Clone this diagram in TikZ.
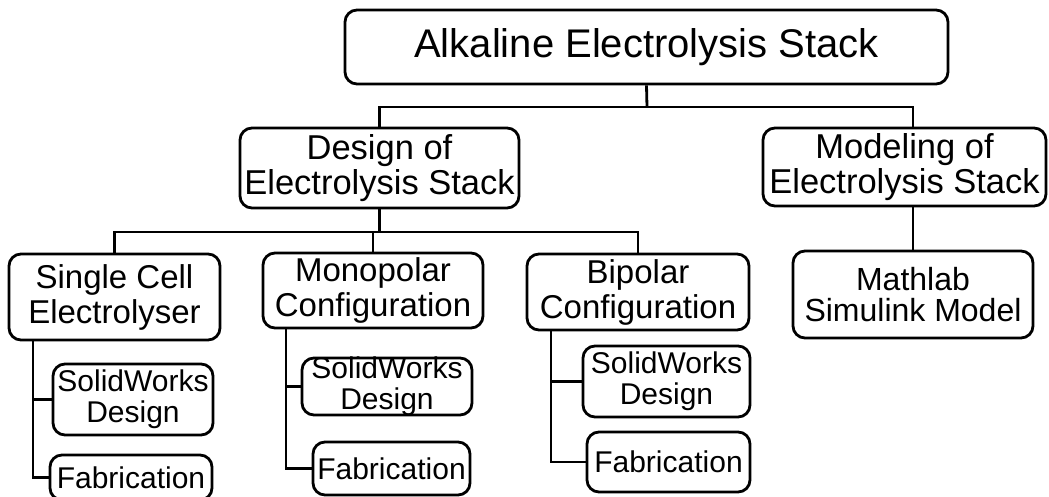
\documentclass[tikz,border=0pt]{standalone}
\usepackage{fontspec}
\setmainfont{Liberation Sans}
\begin{document}
\begin{tikzpicture}[x=1pt,y=-1pt,
  box/.style={draw=black, line width=2.8pt, rounded corners=12pt, fill=white,
    align=center, inner sep=0pt, text=black},
  conn/.style={draw=black, line width=2.8pt},
  ftop/.style={font=\fontsize{40}{40}\selectfont},
  fmid/.style={font=\fontsize{34.5}{35.5}\selectfont},
  flow/.style={font=\fontsize{33}{35}\selectfont},
  fsub/.style={font=\fontsize{30}{31}\selectfont},
  fmat/.style={font=\fontsize{32}{31}\selectfont}]
\fill[white] (0,0) rectangle (1049,497);
\useasboundingbox (0,0) rectangle (1049,497);

% boxes
\node[box, ftop, minimum width=603pt, minimum height=74pt] (top) at (646.5,47) {Alkaline Electrolysis Stack};
\node[box, fmid, minimum width=279pt, minimum height=80pt] (design) at (379.5,168) {Design of\\Electrolysis Stack};
\node[box, fmid, minimum width=283pt, minimum height=78pt] (modeling) at (904.5,167) {Modeling of\\Electrolysis Stack};
\node[box, flow, minimum width=211pt, minimum height=86pt] (single) at (114.5,297) {Single Cell\\Electrolyser};
\node[box, flow, minimum width=220pt, minimum height=75pt] (mono) at (373,290.5) {Monopolar\\Configuration};
\node[box, flow, minimum width=222pt, minimum height=76pt] (bip) at (638,292) {Bipolar\\Configuration};
\node[box, fmat, minimum width=240pt, minimum height=87pt] (mathlab) at (913,294.5) {Mathlab\\Simulink Model};

\node[box, fsub, minimum width=160pt, minimum height=71pt] (sw1) at (133,399.5) {SolidWorks\\Design};
\node[box, fsub, minimum width=162pt, minimum height=45pt] (fab1) at (131,477.5) {Fabrication};
\node[box, minimum width=170pt, minimum height=57pt,
  label={[fsub, align=center, inner sep=0pt]center:SolidWorks\\Design}] (sw2) at (387,386.5) {};
\node[box, fsub, minimum width=157pt, minimum height=53pt] (fab2) at (391.5,468.5) {Fabrication};
\node[box, fsub, minimum width=167pt, minimum height=71pt] (sw3) at (666.5,381.5) {SolidWorks\\Design};
\node[box, fsub, minimum width=163pt, minimum height=60pt] (fab3) at (668.5,462) {Fabrication};

% junctions
\coordinate (j1) at (647,107);
\coordinate (j2) at (380,232);
\coordinate (c1) at (33,0);
\coordinate (c2) at (286,0);
\coordinate (c3) at (551,0);

% connectors
\draw[conn] (top.south) -- (j1);
\draw[conn] (design.north) -- (design.north |- j1) -- (j1 -| mathlab.north) -- (modeling.north -| mathlab.north);
\draw[conn] (modeling.south -| mathlab.north) -- (mathlab.north);
\draw[conn] (design.south) -- (design.south |- j2);
\draw[conn] (single.north) -- (single.north |- j2) -- (j2 -| bip.north) -- (bip.north);
\draw[conn] (mono.north) -- (mono.north |- j2);

\draw[conn] (single.south -| c1) |- (fab1.west);
\draw[conn] (sw1.west) -- (sw1.west -| c1);
\draw[conn] (mono.south -| c2) |- (fab2.west);
\draw[conn] (sw2.west) -- (sw2.west -| c2);
\draw[conn] (bip.south -| c3) |- (fab3.west);
\draw[conn] (sw3.west) -- (sw3.west -| c3);
\end{tikzpicture}
\end{document}
